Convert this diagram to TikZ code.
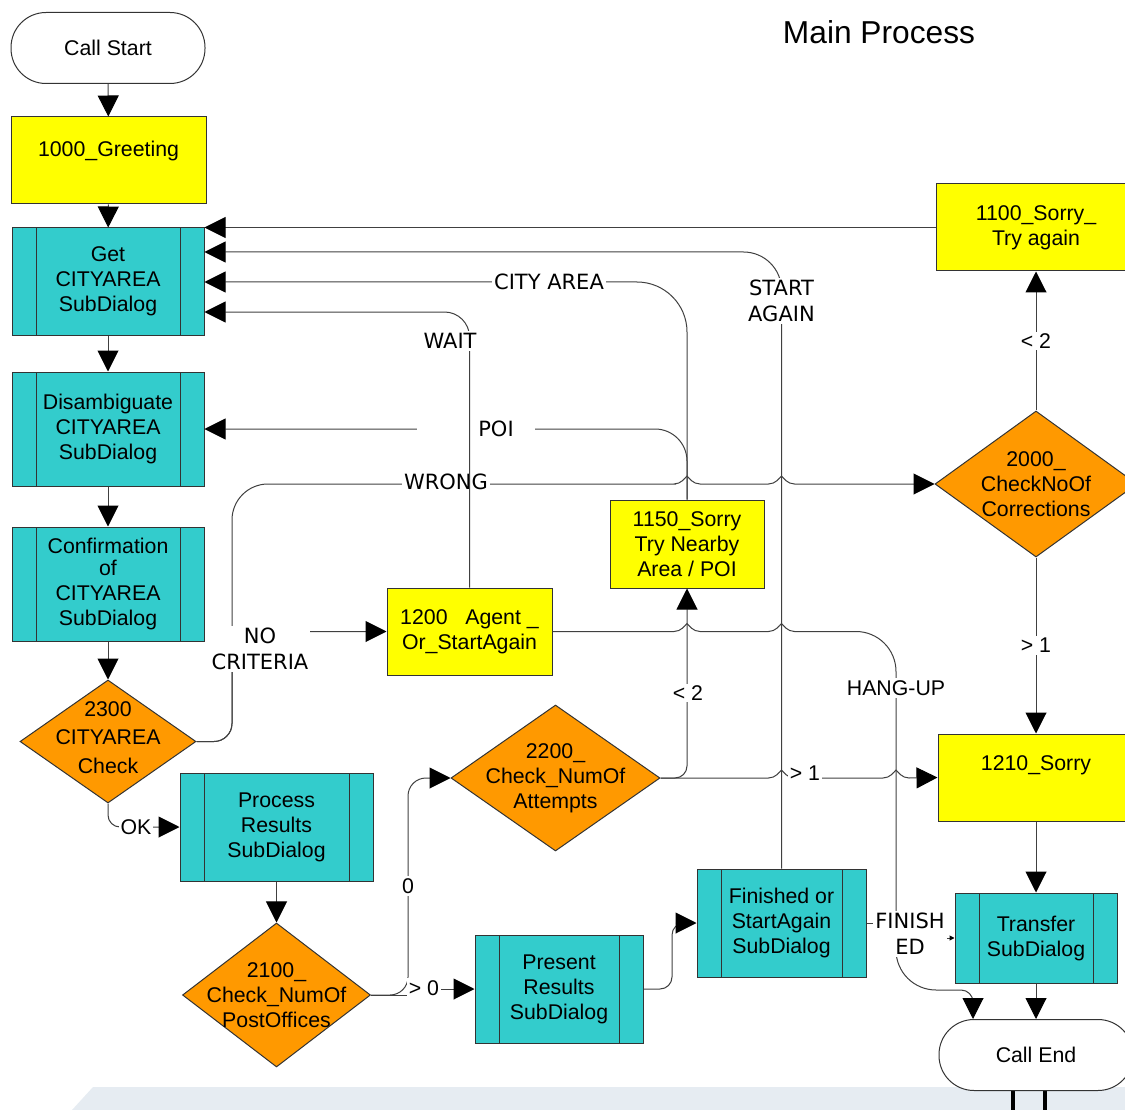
\documentclass[tikz,border=0pt]{standalone}
\usepackage{fontspec}
\setmainfont{Liberation Sans}
\newfontfamily\comicfont{DejaVu Sans}
\usetikzlibrary{shapes.geometric,arrows.meta}
\definecolor{subcyan}{RGB}{51,204,204}
\definecolor{boxyellow}{RGB}{255,255,0}
\definecolor{decorange}{RGB}{255,153,0}
\definecolor{bandblue}{RGB}{230,236,242}
\newcommand{\hop}[2]{-- ({#1-13},#2) .. controls ({#1-6},#2) and ({#1-2},{#2-6}) .. (#1,{#2-8}) .. controls ({#1+2},{#2-6}) and ({#1+6},#2) .. ({#1+13},#2)}
\begin{document}
\begin{tikzpicture}[x=1pt,y=-1pt,
	font=\fontsize{21.3}{25}\selectfont,
	>={Triangle[length=21pt,width=21pt,color=black]},
	conn/.style={draw=black!75,line width=1pt,->},
	term/.style={draw=black!80,line width=1pt,fill=white,rounded corners=35pt,minimum width=194pt,minimum height=71pt,inner sep=0pt},
	box/.style={draw=black!80,line width=1pt,fill=boxyellow,align=center,inner sep=0pt},
	sub/.style={draw=black!80,line width=1pt,fill=subcyan,align=center,inner sep=0pt,
		path picture={\draw [black!80,line width=1pt] ([xshift=24pt]path picture bounding box.north west) -- ([xshift=24pt]path picture bounding box.south west) ([xshift=-24pt]path picture bounding box.north east) -- ([xshift=-24pt]path picture bounding box.south east);}},
	dec/.style={diamond,draw=black!80,line width=1pt,fill=decorange,inner sep=0pt},
	dectext/.style={align=center,inner sep=0pt},
	lbl/.style={fill=white,inner sep=2pt},
	clbl/.style={fill=white,inner sep=2pt,align=center,font=\comicfont\fontsize{21}{26}\selectfont}]
	\useasboundingbox (0,0) rectangle (1125,1110);
	\fill [bandblue] (93,1087) -- (1125,1087) -- (1125,1110) -- (72,1110) -- cycle;
	\draw [line width=4pt] (1013,1088) -- (1013,1110) (1045,1088) -- (1045,1110);

	\node [font=\fontsize{31.7}{36}\selectfont] (title) at (879,32) {Main Process};
	\node [term] (start) at (108,48) {Call Start};
	\node [box,minimum width=195pt,minimum height=87pt] (greet) at (108.5,160.5) {\raisebox{10pt}[\height][\depth]{1000\_Greeting}};
	\node [sub,minimum width=192pt,minimum height=107pt] (getca) at (108,281.5) {Get\\CITYAREA\\SubDialog};
	\node [sub,minimum width=192pt,minimum height=114pt] (disamb) at (108,429) {Disambiguate\\CITYAREA\\SubDialog};
	\node [sub,minimum width=192pt,minimum height=114pt] (confirm) at (108,584) {Confirmation\\[-3pt]of\\CITYAREA\\SubDialog};
	\node [dec,minimum width=176pt,minimum height=123pt,label={[dectext,yshift=4pt,font=\fontsize{21.3}{28.5}\selectfont]center:2300\\CITYAREA\\Check}] (d2300) at (108,741.5) {};
	\node [sub,minimum width=193pt,minimum height=108pt] (process) at (276.5,827) {Process\\Results\\SubDialog};
	\node [dec,minimum width=188pt,minimum height=144pt,label={[dectext]center:2100\_\\Check\_NumOf\\PostOffices}] (d2100) at (276.5,995) {};
	\node [sub,minimum width=168pt,minimum height=108pt] (present) at (559,989) {Present\\Results\\SubDialog};
	\node [sub,minimum width=169pt,minimum height=108pt] (finish) at (781.5,923) {Finished or\\StartAgain\\SubDialog};
	\node [sub,minimum width=162pt,minimum height=90pt] (transfer) at (1036,938) {Transfer\\SubDialog};
	\node [term] (callend) at (1036,1055) {Call End};
	\node [box,minimum width=165pt,minimum height=87pt] (s1200) at (469.5,631.5) {1200\ \ \ Agent \_\\Or\_StartAgain};
	\node [box,minimum width=154pt,minimum height=88pt] (s1150) at (687,544) {1150\_Sorry\\Try Nearby\\Area / POI};
	\node [dec,minimum width=209pt,minimum height=146pt,label={[dectext]center:2200\_\\Check\_NumOf\\Attempts}] (d2200) at (555.5,778) {};
	\node [box,minimum width=200pt,minimum height=87pt] (s1100) at (1036,227.5) {1100\_Sorry\_\\Try again};
	\node [dec,minimum width=202pt,minimum height=146pt,label={[dectext]center:2000\_\\CheckNoOf\\Corrections}] (d2000) at (1036,484) {};
	\node [box,minimum width=196pt,minimum height=87pt] (s1210) at (1036,777.5) {\raisebox{12pt}[\height][\depth]{1210\_Sorry}};

	\draw [conn] (start) -- (greet);
	\draw [conn] (greet) -- (getca);
	\draw [conn] (getca) -- (disamb);
	\draw [conn] (disamb) -- (confirm);
	\draw [conn] (confirm) -- (d2300);
	\draw [conn] (process) -- (d2100);
	\draw [conn] (s1210) -- (transfer);
	\draw [conn] (transfer) -- (callend);
	\draw [conn] (d2000) -- node [lbl] {< 2} (s1100);
	\draw [conn] (d2000) -- node [lbl] {> 1} (s1210);
	\draw [conn] (s1100.west) -- (getca.north east);

	\draw [conn,rounded corners=38pt] (finish.north) -- (781.5,252) -- (getca.east |- 0,252);
	\node [clbl] (lstart) at (781.5,301) {START\\AGAIN};
	\draw [conn,rounded corners=50pt] (s1150.north) -- (687,282) -- (getca.east |- 0,282);
	\node [clbl] (lcity) at (549,282) {CITY AREA};
	\draw [conn,rounded corners=32pt] (s1150.north) -- (687,429) -- (disamb.east);
	\node [clbl,minimum width=118pt] (lpoi) at (476,429) {\hspace*{40pt}POI};
	\draw [conn] (d2300.east) [rounded corners=18pt] -- (232,741.5) [rounded corners=36pt] -- (232,484) -- (640,484) [sharp corners] \hop{687}{484} \hop{781.5}{484} -- (d2000.west);
	\node [clbl] (lwrong) at (446,482) {WRONG};
	\draw [conn,rounded corners=18pt] (d2300.east) -- (232,741.5) -- (232,631.5) -- (s1200.west);
	\node [clbl] (lnocrit) at (260,649) {NO\\CRITERIA};
	\draw [conn,rounded corners=25pt] (s1200.north) -- (469.5,312) -- (getca.east |- 0,312);
	\node [clbl] (lwait) at (450,341) {WAIT};

	\draw [conn,rounded corners=12pt] (d2200.east) -- (687,778) -- (s1150.south);
	\node [lbl] (lless) at (688,693) {< 2};
	\draw [conn] (d2200.east) \hop{781.5}{778} \hop{896}{778} -- (s1210.west);
	\node [lbl] (lmore) at (805,773) {> 1};
	\draw [conn] (s1200.east) \hop{687}{631.5} \hop{781.5}{631.5} [rounded corners=40pt] -- (896,631.5) -- (896,990) [rounded corners=12pt] -- (973,990) -- (callend.north -| 973,0);
	\node [lbl] (lhang) at (896,688) {HANG-UP};
	\draw [conn,>={Triangle[length=5pt,width=5pt,color=black]}] (finish.east) -- (910,923) |- (transfer.west);
	\node [clbl] (lfin) at (910,934) {FINISH\\ED};

	\draw [conn] (d2100.east) -- (418,995) |- (present.west);
	\draw [conn,rounded corners=18pt] (d2100.east) -- (408,995) -- (408,778) -- (d2200.west);
	\node [lbl] (lgt0) at (424,988) {> 0};
	\node [lbl] (lzero) at (408,886) {0};
	\draw [conn,rounded corners=12pt] (present.east) -- (672,989) -- (672,923) -- (finish.west);
	\draw [conn,rounded corners=12pt] (d2300.south) -- (108,827) -- (process.west);
	\node [lbl] (lok) at (136,827) {OK};
\end{tikzpicture}
\end{document}
